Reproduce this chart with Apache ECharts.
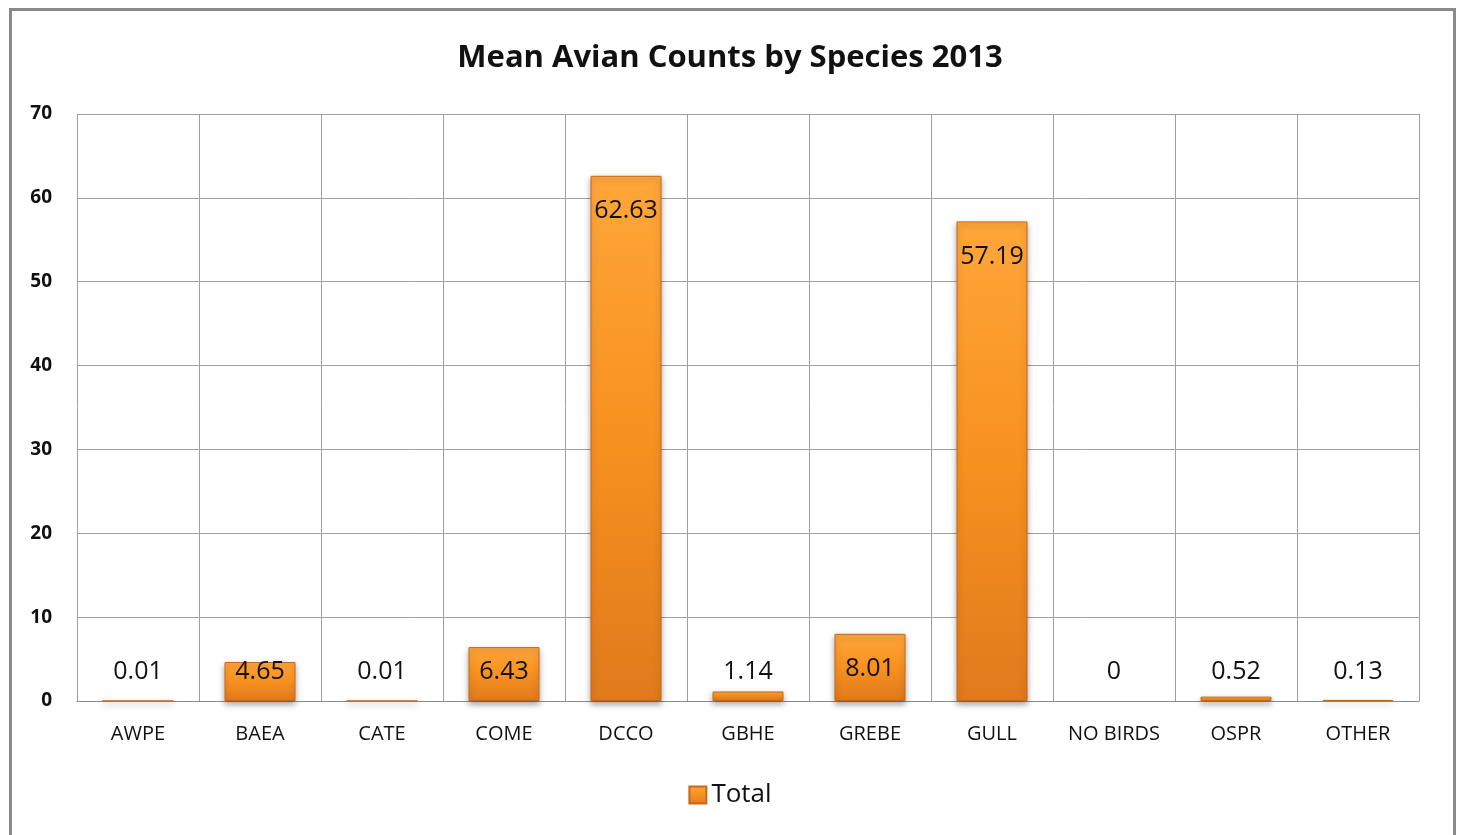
<!DOCTYPE html>
<html>
<head>
<meta charset="utf-8">
<script src="https://cdn.jsdelivr.net/npm/echarts@6/dist/echarts.min.js"></script>
<style>
  html, body { margin: 0; padding: 0; background: #fff; }
  #chart { width: 1460px; height: 835px; }
</style>
</head>
<body>
<div id="chart"></div>
<script>
// Species codes and their mean counts for 2013
const categories = ['AWPE', 'BAEA', 'CATE', 'COME', 'DCCO', 'GBHE', 'GREBE', 'GULL', 'NO BIRDS', 'OSPR', 'OTHER'];
const totals = [0.01, 4.65, 0.01, 6.43, 62.63, 1.14, 8.01, 57.19, 0, 0.52, 0.13];
const yTicks = { min: 0, max: 70, interval: 10 };

const FONT = '"Open Sans", "Noto Sans", sans-serif';

const barFill = new echarts.graphic.LinearGradient(0, 0, 0, 1, [
  { offset: 0, color: '#FFA63A' },
  { offset: 0.5, color: '#F7911F' },
  { offset: 1, color: '#E07A1C' }
]);

// Tall bars carry their value just inside the top; short ones sit it above the base line
const seriesData = totals.map(v => ({
  value: v,
  itemStyle: v === 0 ? { borderWidth: 0, shadowBlur: 0 } : undefined,
  label: v >= 7.5
    ? { position: 'insideTop', distance: 23 }
    : { position: 'insideBottom', distance: 17 }
}));

const chart = echarts.init(document.getElementById('chart'), null, { renderer: 'canvas' });
chart.setOption({
  animation: false,
  backgroundColor: '#ffffff',
  title: {
    text: 'Mean Avian Counts by Species 2013',
    left: 'center',
    top: 38,
    textStyle: { fontFamily: FONT, fontSize: 31, fontWeight: 'bold', color: '#111' }
  },
  legend: {
    bottom: 22,
    left: 'center',
    itemWidth: 17,
    itemHeight: 17,
    itemGap: 10,
    textStyle: { fontFamily: FONT, fontSize: 26, color: '#111' },
    data: [{ name: 'Total', icon: 'rect' }]
  },
  grid: { left: 77, right: 41, top: 114, bottom: 134, containLabel: false },
  xAxis: {
    type: 'category',
    data: categories,
    boundaryGap: true,
    axisLine: { lineStyle: { color: '#8c8c8c', width: 1 } },
    axisTick: { show: false },
    splitLine: { show: true, lineStyle: { color: '#a0a0a0', width: 1 } },
    axisLabel: { margin: 23, fontFamily: FONT, fontSize: 20, color: '#111' }
  },
  yAxis: {
    type: 'value',
    min: yTicks.min,
    max: yTicks.max,
    interval: yTicks.interval,
    axisLine: { show: false },
    axisTick: { show: false },
    splitLine: { lineStyle: { color: '#a0a0a0', width: 1 } },
    axisLabel: { margin: 25, fontFamily: FONT, fontSize: 19, fontWeight: 'bold', color: '#111' }
  },
  series: [{
    name: 'Total',
    type: 'bar',
    data: seriesData,
    barWidth: 71,
    itemStyle: {
      color: barFill,
      borderColor: '#C8661A',
      borderWidth: 1,
      shadowColor: 'rgba(0,0,0,0.35)',
      shadowBlur: 6,
      shadowOffsetY: 3
    },
    label: {
      show: true,
      fontFamily: FONT,
      fontSize: 25,
      color: '#111'
    }
  }],
  graphic: [{
    type: 'rect',
    left: 8,
    top: 7,
    shape: { x: 0, y: 0, width: 1444, height: 840 },
    style: { fill: 'none', stroke: '#8a8a8a', lineWidth: 3 },
    silent: true
  }]
});
</script>
</body>
</html>
